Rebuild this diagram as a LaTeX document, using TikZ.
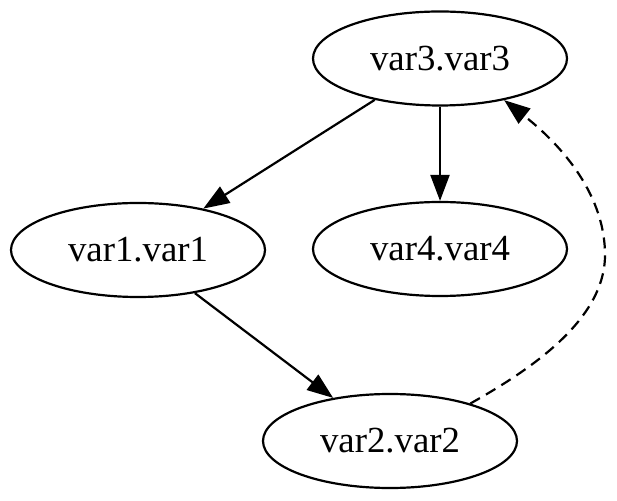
\documentclass[tikz,border=0pt]{standalone}
\usepackage{fontspec}
\setmainfont{Liberation Serif}
\usetikzlibrary{shapes.geometric,arrows.meta}
\begin{document}
\begin{tikzpicture}[x=1pt,y=1pt,
  vnode/.style={draw,ellipse,line width=2.2pt,minimum width=254pt,minimum height=94pt,inner sep=0pt,
    font=\fontsize{36.8}{40}\selectfont},
  edge/.style={line width=2.2pt,-{Triangle[length=26pt,width=19pt]}},
  dashedge/.style={edge,dash pattern=on 11pt off 7pt}]
\useasboundingbox (0,0) rectangle (617,500);
\node[vnode] (v3) at (440,441.5) {var3.var3};
\node[vnode] (v1) at (138,250) {var1.var1};
\node[vnode] (v4) at (440,251) {var4.var4};
\node[vnode] (v2) at (390,59) {var2.var2};
\draw[edge] (v3) -- (v1);
\draw[edge] (v3) -- (v4);
\draw[edge] (v1) -- (v2);
\draw[dashedge] (v2.25) .. controls (530,130) and (605,180) .. (605,245)
  .. controls (605,310) and (555,360) .. (v3.-33);
\end{tikzpicture}
\end{document}
